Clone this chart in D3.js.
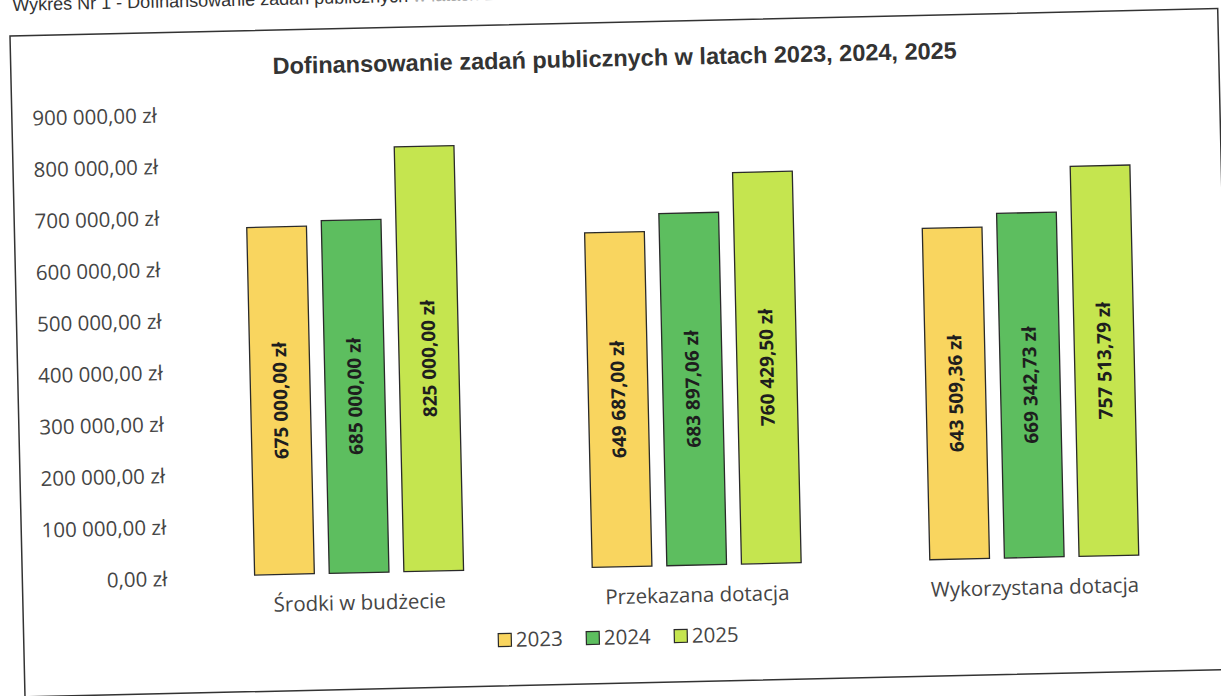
<!DOCTYPE html>
<meta charset="utf-8">
<style>
  body { margin: 0; background: #fff; }
  svg { display: block; }
</style>
<script src="https://d3js.org/d3.v7.min.js"></script>
<div id="chart"></div>
<script>

// data
var categories = ["Środki w budżecie", "Przekazana dotacja", "Wykorzystana dotacja"];
var years = ["2023", "2024", "2025"];
var values2023 = [675000.00, 649687.00, 643509.36];
var values2024 = [685000.00, 683897.06, 669342.73];
var values2025 = [825000.00, 760429.50, 757513.79];
var yTicks = [0, 100000, 200000, 300000, 400000, 500000, 600000, 700000, 800000, 900000];

var seriesByYear = { "2023": values2023, "2024": values2024, "2025": values2025 };
var color = d3.scaleOrdinal()
  .domain(years)
  .range(["#f9d55f", "#5dbe5f", "#c5e54f"]);

// polish money format: "675 000,00 zł"
function zl(v) {
  var s = v.toFixed(2).split(".");
  var ints = s[0].replace(/\B(?=(\d{3})+(?!\d))/g, " ");
  return ints + "," + s[1] + " zł";
}

var W = 1221, H = 696;
var frameW = 1208, frameH = 661;
var plotLeft = 168, plotRight = 1181, plotTop = 81, plotBottom = 544.5;

var svg = d3.select("#chart")
  .append("svg")
    .attr("width", W)
    .attr("height", H);

// the scanned page is slightly tilted
var page = svg.append("g")
  .attr("transform", "translate(10,36) rotate(-1.3)");

page.append("text")
  .attr("x", 3)
  .attr("y", -25)
  .style("font-family", "'Liberation Sans', Arial, sans-serif")
  .style("font-size", "18px")
  .style("fill", "#333")
  .text("Wykres Nr 1 - Dofinansowanie zadań publicznych ")
  .append("tspan")
  .style("fill", "#aaa")
  .text("w latach 2023 - 2025");

page.append("rect")
  .attr("x", 0)
  .attr("y", 0)
  .attr("width", frameW)
  .attr("height", frameH)
  .attr("fill", "#fff")
  .attr("stroke", "#333")
  .attr("stroke-width", 1.5);

page.append("text")
  .attr("x", frameW / 2)
  .attr("y", 44)
  .attr("text-anchor", "middle")
  .style("font-family", "'Liberation Sans', Arial, sans-serif")
  .style("font-weight", "bold")
  .style("font-size", "23.5px")
  .style("fill", "#333")
  .text("Dofinansowanie zadań publicznych w latach 2023, 2024, 2025");

// scales
var x0 = d3.scaleBand()
  .domain(categories)
  .range([plotLeft, plotRight]);
var groupW = 209;
var x1 = d3.scaleBand()
  .domain(years)
  .range([0, groupW])
  .paddingInner(0.2);
var y = d3.scaleLinear()
  .domain([0, 900000])
  .range([plotBottom, plotTop]);

// y axis (labels only, no line / gridlines)
var yAxis = d3.axisLeft(y)
  .tickValues(yTicks)
  .tickFormat(zl)
  .tickSize(0)
  .tickPadding(0);
var yg = page.append("g")
  .attr("transform", "translate(145,2)")
  .call(yAxis);
yg.select(".domain").remove();
yg.selectAll("text")
  .style("font-family", "'Open Sans', sans-serif")
  .style("font-size", "20.5px")
  .style("fill", "#454545");

// x axis category labels
var xAxis = d3.axisBottom(x0).tickSize(0).tickPadding(0);
var xg = page.append("g")
  .attr("transform", "translate(0,567)")
  .call(xAxis);
xg.select(".domain").remove();
xg.selectAll("text")
  .style("font-family", "'Open Sans', sans-serif")
  .style("font-size", "20.5px")
  .style("fill", "#454545");

// bars
var rows = categories.map(function(c, i) {
  return years.map(function(yr) { return { cat: c, year: yr, value: seriesByYear[yr][i] }; });
});

var groups = page.selectAll("g.group")
  .data(rows)
  .enter()
  .append("g")
    .attr("class", "group")
    .attr("transform", function(d, i) {
      return "translate(" + (x0(categories[i]) + (x0.bandwidth() - groupW) / 2) + ",0)";
    });

groups.selectAll("rect")
  .data(function(d) { return d; })
  .enter()
  .append("rect")
    .attr("x", function(d) { return x1(d.year); })
    .attr("y", function(d) { return y(d.value); })
    .attr("width", x1.bandwidth())
    .attr("height", function(d) { return y(0) - y(d.value); })
    .attr("fill", function(d) { return color(d.year); })
    .attr("stroke", "#2a2a2a")
    .attr("stroke-width", 1.3);

groups.selectAll("text.value")
  .data(function(d) { return d; })
  .enter()
  .append("text")
    .attr("class", "value")
    .attr("transform", function(d) {
      var cx = x1(d.year) + x1.bandwidth() / 2;
      var cy = (y(d.value) + y(0)) / 2;
      return "translate(" + cx + "," + cy + ") rotate(-90)";
    })
    .attr("text-anchor", "middle")
    .attr("dy", "0.35em")
    .style("font-family", "'Open Sans', sans-serif")
    .style("font-weight", "bold")
    .style("font-size", "19px")
    .style("fill", "#1e1e1e")
    .text(function(d) { return zl(d.value); });

// legend
var legend = page.append("g")
  .attr("transform", "translate(481,615)");

var items = legend.selectAll("g.item")
  .data(years)
  .enter()
  .append("g")
    .attr("class", "item")
    .attr("transform", function(d, i) { return "translate(" + (i * 88) + ",0)"; });

items.append("rect")
  .attr("x", -6.5)
  .attr("y", -6.5)
  .attr("width", 13)
  .attr("height", 13)
  .attr("fill", function(d) { return color(d); })
  .attr("stroke", "#2a2a2a")
  .attr("stroke-width", 1.2);

items.append("text")
  .attr("x", 11)
  .attr("dy", "0.35em")
  .style("font-family", "'Open Sans', sans-serif")
  .style("font-size", "20.5px")
  .style("fill", "#454545")
  .text(function(d) { return d; });

</script>
